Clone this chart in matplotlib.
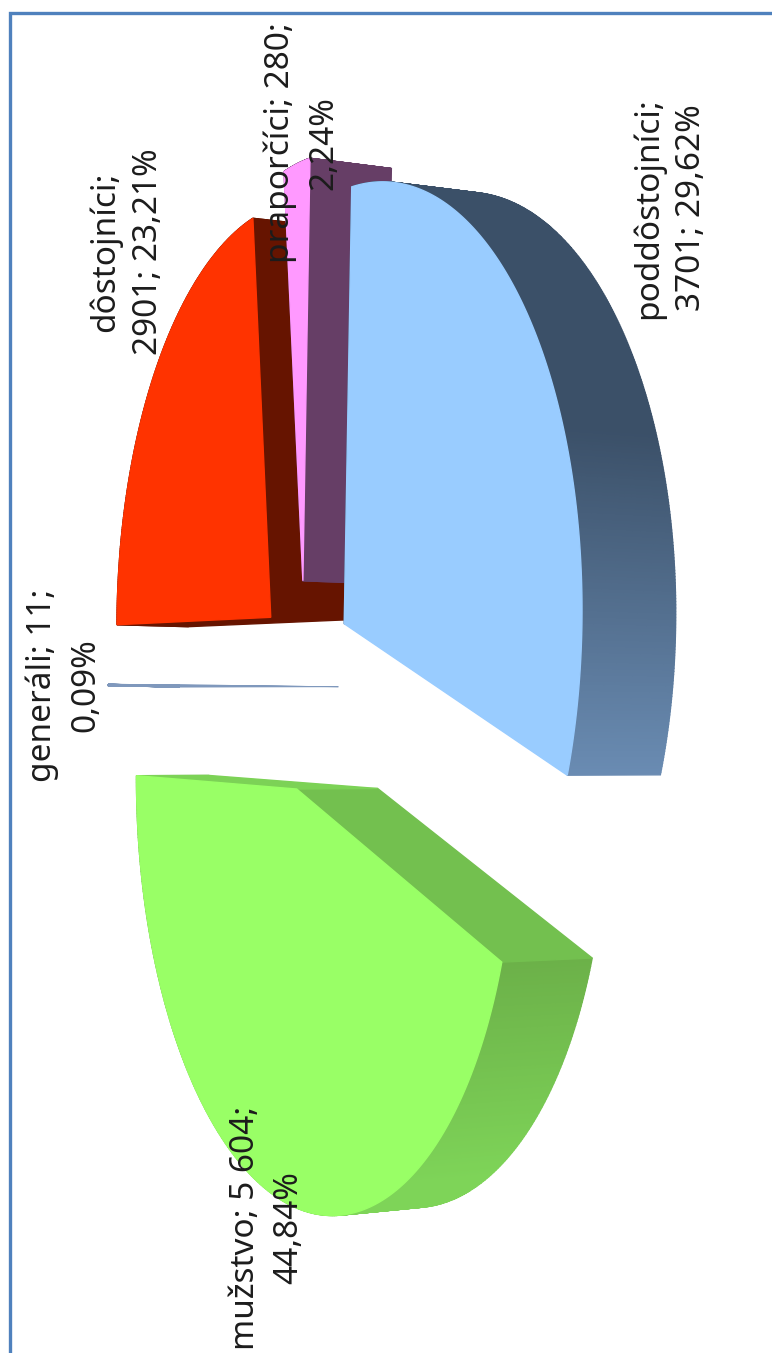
import numpy as np
import matplotlib
matplotlib.use("Agg")
import matplotlib.pyplot as plt
from matplotlib.colors import to_rgb
from matplotlib.patches import Polygon

plt.rcParams['font.family'] = ['Noto Sans', 'DejaVu Sans']

# chart values, in pie order (clockwise)
names = ["poddôstojníci", "mužstvo", "generáli", "dôstojníci", "praporčíci"]
values = [3701, 5604, 11, 2901, 280]
value_labels = ["3701", "5 604", "11", "2901", "280"]
percent_labels = ["29,62%", "44,84%", "0,09%", "23,21%", "2,24%"]

# text of each data label, with the line break the chart uses
labels = [
    names[0] + ";\n" + value_labels[0] + "; " + percent_labels[0],
    names[1] + "; " + value_labels[1] + ";\n" + percent_labels[1],
    names[2] + "; " + value_labels[2] + ";\n" + percent_labels[2],
    names[3] + ";\n" + value_labels[3] + "; " + percent_labels[3],
    names[4] + "; " + value_labels[4] + ";\n" + percent_labels[4],
]
label_pos = [(670, 208), (267, 1228), (64, 685), (127, 252), (302, 143)]

face_colors = ["#99ccff", "#99ff66", "#7f98bc", "#ff3300", "#ff99ff"]
wall_colors = ["#3b5068", "#73c04f", "#7f98bc", "#661400", "#663e66"]
# the end wall of the first slice lies behind its face, so it is not drawn
end_wall_colors = [None, "#7cd256", "#7f98bc", "#661400", "#663e66"]
edge_widths = [1.0, 1.0, 0.5, 1.0, 1.0]
# outer wall gradient: (colour, y) to (colour, y), None for a flat colour
rim_gradient = [("#3b5068", 430, "#6a8cb3", 775), ("#6cb149", 960, "#7ed458", 1180), None, None, None]
draw_order = [3, 4, 2, 1, 0]

# pie layout and the camera of the 3D chart (pie plane to image pixels)
start_angle = 83.0
explode = 0.25
camera = [139.638, -11.4618, 87.9868, 304.406,
          -143.321, -409.49, 13.215, 685.779,
          -0.154199, 0.014259, 0.0174394]


def project(x, y, z):
    p = camera
    w = p[8] * x + p[9] * y + p[10] * z + 1
    return (p[0] * x + p[1] * y + p[2] * z + p[3]) / w, (p[4] * x + p[5] * y + p[6] * z + p[7]) / w


def blend(grad, y):
    c0, y0, c1, y1 = grad
    k = np.clip((y - y0) / (y1 - y0), 0, 1)
    return tuple((1 - k) * np.array(to_rgb(c0)) + k * np.array(to_rgb(c1)))


def add_poly(ax, u, v, color, lw):
    ax.add_patch(Polygon(np.c_[u, v], closed=True, fc=color, ec=color, lw=lw))


def draw_slice(ax, i, a0, a1):
    mid = np.radians((a0 + a1) / 2)
    cx, cy = explode * np.cos(mid), explode * np.sin(mid)
    t = np.radians(np.linspace(a0, a1, 300))
    ox, oy = cx + np.cos(t), cy + np.sin(t)
    fu, fv = project(ox, oy, 0)
    bu, bv = project(ox, oy, 1)
    au, av = project(cx, cy, 0)
    cu, cv = project(cx, cy, 1)
    lw = edge_widths[i]

    # rounded outer wall, in strips so it can carry the gradient
    grad = rim_gradient[i]
    for k in range(len(t) - 1):
        color = wall_colors[i]
        if grad is not None:
            color = blend(grad, (fv[k] + bv[k]) / 2)
        add_poly(ax, [fu[k], fu[k + 1], bu[k + 1], bu[k]], [fv[k], fv[k + 1], bv[k + 1], bv[k]], color, lw)

    # the two flat cut walls
    add_poly(ax, [au, fu[0], bu[0], cu], [av, fv[0], bv[0], cv], wall_colors[i], lw)
    if end_wall_colors[i] is not None:
        add_poly(ax, [au, fu[-1], bu[-1], cu], [av, fv[-1], bv[-1], cv], end_wall_colors[i], lw)

    add_poly(ax, np.r_[au, fu], np.r_[av, fv], face_colors[i], lw)


def main():
    fig = plt.figure(figsize=(7.72, 13.53), dpi=100)
    ax = fig.add_axes([0, 0, 1, 1])
    ax.set_xlim(0, 772)
    ax.set_ylim(1353, 0)
    ax.axis("off")

    # chart frame, cut off at the right and bottom of the picture
    ax.plot([10, 10, 772], [1353, 13, 13], color="#4f81bd", lw=2.4, solid_joinstyle="miter")

    angles = start_angle - 360 * np.r_[0, np.cumsum(values)] / sum(values)
    for i in draw_order:
        draw_slice(ax, i, angles[i], angles[i + 1])

    for i in range(len(labels)):
        ax.text(label_pos[i][0], label_pos[i][1], labels[i], rotation=90, ha="center", va="center",
                multialignment="center", fontsize=24, linespacing=1.4, color="#1c1c1c")

    fig.savefig("out.png")
    plt.close()


if __name__ == "__main__":
    main()
